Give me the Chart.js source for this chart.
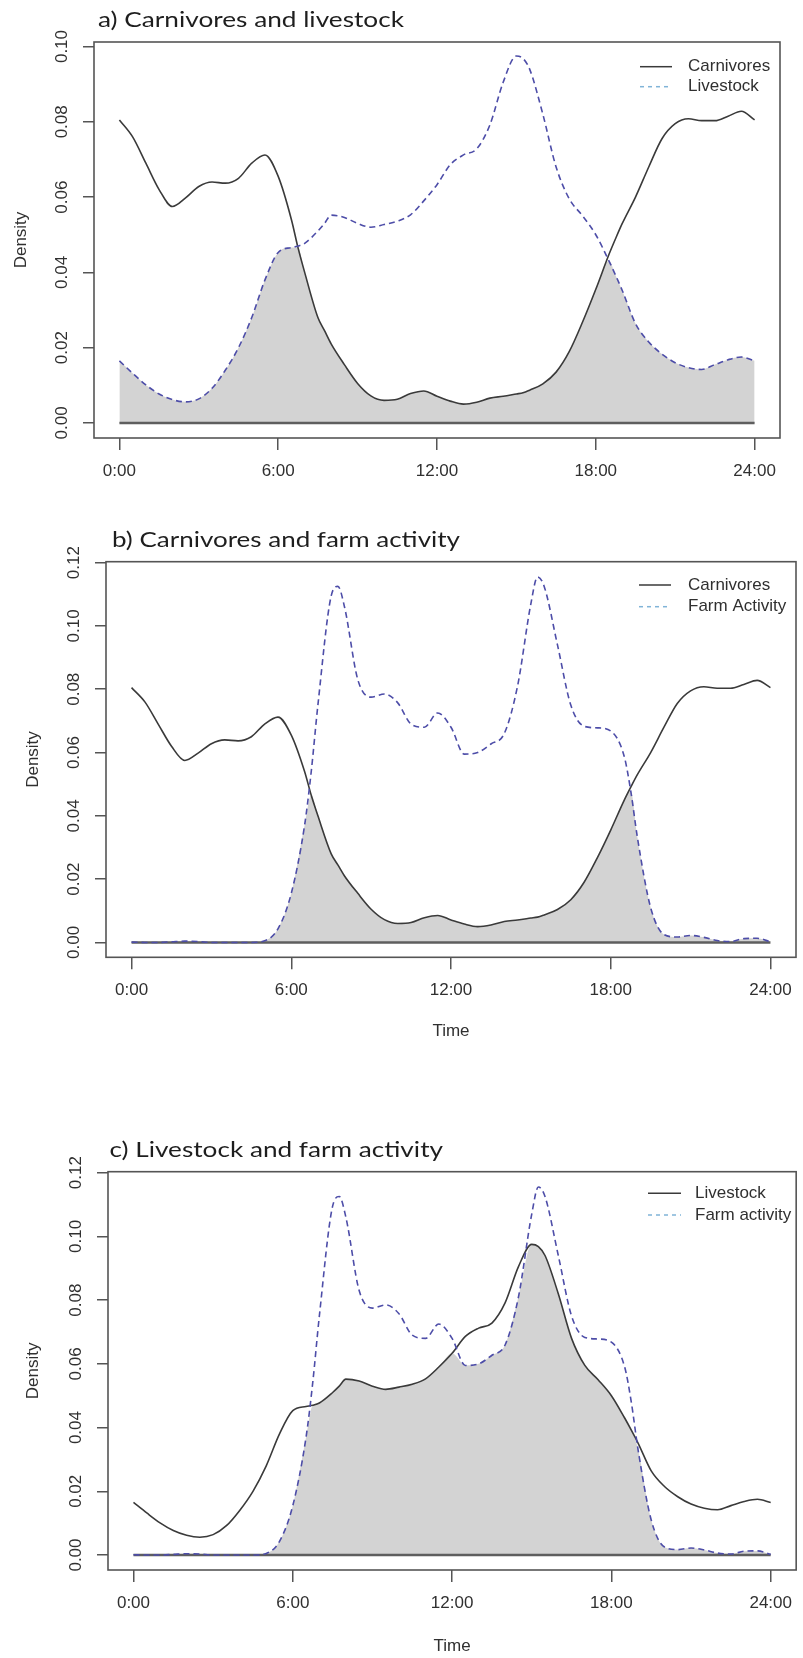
<!DOCTYPE html>
<html>
<head>
<meta charset="utf-8">
<script src="https://cdn.jsdelivr.net/npm/chart.js@4.4.1/dist/chart.umd.min.js"></script>
<style>
  html, body { margin: 0; padding: 0; background: #fff; }
  #wrap { position: relative; width: 803px; height: 1658px; }
  canvas { position: absolute; left: 0; }
</style>
</head>
<body>
<div id="wrap">
  <canvas id="chartA" width="803" height="495" style="top:0px"></canvas>
  <canvas id="chartB" width="803" height="565" style="top:495px"></canvas>
  <canvas id="chartC" width="803" height="598" style="top:1060px"></canvas>
</div>
<script>
// time of day (hours) at which the densities were read
const hours = [0, 0.5, 1, 1.5, 2, 2.5, 3, 3.5, 4, 4.5, 5, 5.5, 6, 6.5, 6.75, 7, 7.5, 7.75,
  8, 8.5, 9, 9.5, 10, 10.5, 11, 11.5, 12, 12.5, 13, 13.5, 14, 14.5, 15, 15.25,
  15.5, 16, 16.5, 17, 17.5, 18, 18.5, 18.75, 19, 19.5, 20, 20.5, 21, 21.5, 22, 22.5, 23, 23.5, 24];

const carnivores = [0.0805, 0.0760, 0.0690, 0.0620, 0.0575, 0.0598, 0.0628, 0.0640, 0.0637, 0.0650,
  0.0690, 0.0712, 0.0655, 0.0540, 0.0465, 0.0400, 0.0280, 0.0245,
  0.0210, 0.0155, 0.0105, 0.0072, 0.0060, 0.0063, 0.0078, 0.0085, 0.0071, 0.0058, 0.0050, 0.0055,
  0.0066, 0.0071, 0.0077, 0.0080,
  0.0087, 0.0104, 0.0135, 0.0190, 0.0268, 0.0355, 0.0448, 0.0490, 0.0530, 0.0600, 0.0680, 0.0755, 0.0795,
  0.0808, 0.0803, 0.0803, 0.0815, 0.0828, 0.0805];

const livestock = [0.0165, 0.0132, 0.0101, 0.0077, 0.0062, 0.0056, 0.0064, 0.0092, 0.0140, 0.0200,
  0.0280, 0.0380, 0.0453, 0.0466, 0.0470, 0.0477, 0.0510, 0.0530,
  0.0552, 0.0546, 0.0530, 0.0520, 0.0527, 0.0536, 0.0553, 0.0590, 0.0633, 0.0686, 0.0712, 0.0728,
  0.0792, 0.0905, 0.0975, 0.0968,
  0.0940, 0.0820, 0.0680, 0.0595, 0.0550, 0.0500, 0.0430, 0.0392, 0.0352, 0.0264, 0.0215, 0.0183, 0.0160,
  0.0147, 0.0142, 0.0155, 0.0168, 0.0175, 0.0165];

const farmActivity = [0.0001, 0.0000, 0.0000, 0.0002, 0.0004, 0.0003, 0.0000, 0.0000, 0.0000, 0.0000,
  0.0005, 0.0043, 0.0155, 0.0370, 0.0540, 0.0750, 0.1095, 0.1125,
  0.1060, 0.0830, 0.0775, 0.0785, 0.0757, 0.0690, 0.0680, 0.0725, 0.0680, 0.0595, 0.0600, 0.0627,
  0.0660, 0.0810, 0.1070, 0.1155,
  0.1125, 0.0940, 0.0750, 0.0683, 0.0678, 0.0668, 0.0590, 0.0480, 0.0333, 0.0110, 0.0025, 0.0017, 0.0022,
  0.0016, 0.0006, 0.0003, 0.0012, 0.0013, 0.0002];

const timeTicks = [0, 6, 12, 18, 24];
const timeLabels = ['0:00', '6:00', '12:00', '18:00', '24:00'];
const densityTicksA = [0, 0.02, 0.04, 0.06, 0.08, 0.10];
const densityTicksBC = [0, 0.02, 0.04, 0.06, 0.08, 0.10, 0.12];

const SOLID = '#3a3a3a';
const DASHED = '#4d4da8';
const KEY_DASH = '#80b4d8';
const SHADE = '#d3d3d3';
const AXIS = '#555555';
const TEXT = '#303030';
const FONT = "'Liberation Sans', Arial, sans-serif";

function pts(ys) {
  return hours.map((h, i) => ({ x: h, y: ys[i] }));
}
// overlap of the two activity curves
function overlap(a, b) {
  return a.map((v, i) => Math.min(v, b[i]));
}

// frame, zero line, key and panel title, R style
const decor = {
  id: 'decor',
  afterDatasetDraw(chart, args, opts) {
    if (args.index !== 0) return;
    const { ctx, scales: { x, y } } = chart;
    const y0 = y.getPixelForValue(0);
    ctx.save();
    ctx.strokeStyle = '#5e5e5e';
    ctx.lineWidth = 2.5;
    ctx.beginPath();
    ctx.moveTo(x.getPixelForValue(hours[0]), y0);
    ctx.lineTo(x.getPixelForValue(hours[hours.length - 1]), y0);
    ctx.stroke();
    ctx.restore();
  },
  afterDraw(chart, args, opts) {
    const { ctx, chartArea: a } = chart;
    ctx.save();
    ctx.strokeStyle = AXIS;
    ctx.lineWidth = 1.6;
    ctx.strokeRect(a.left, a.top, a.right - a.left, a.bottom - a.top);

    // key
    const k = opts.key;
    ctx.font = '17px ' + FONT;
    ctx.textBaseline = 'middle';
    ctx.textAlign = 'left';
    k.labels.forEach((lab, i) => {
      const yy = k.rows[i];
      ctx.beginPath();
      ctx.lineWidth = 1.5;
      if (i === 0) { ctx.strokeStyle = SOLID; ctx.setLineDash([]); }
      else { ctx.strokeStyle = KEY_DASH; ctx.setLineDash([4, 4]); }
      ctx.moveTo(k.x1, yy);
      ctx.lineTo(k.x2, yy);
      ctx.stroke();
      ctx.setLineDash([]);
      ctx.fillStyle = TEXT;
      ctx.fillText(lab, k.tx, yy);
    });

    // panel title
    const t = opts.title;
    ctx.font = '21px Lato, "Open Sans", sans-serif';
    ctx.textBaseline = 'alphabetic';
    ctx.fillStyle = '#1e1e1e';
    const w = ctx.measureText(t.text).width;
    ctx.translate(t.x, t.y);
    ctx.scale(t.width / w, 1);
    ctx.fillText(t.text, 0, 0);
    ctx.restore();
  }
};

function makeChart(p) {
  const ctx = document.getElementById(p.id).getContext('2d');
  return new Chart(ctx, {
    type: 'line',
    data: {
      datasets: [{
        label: 'overlap',
        data: pts(overlap(p.solid, p.dashed)),
        borderWidth: 0,
        backgroundColor: SHADE,
        fill: 'origin',
        pointRadius: 0,
        cubicInterpolationMode: 'monotone',
        order: 3
      }, {
        label: p.keys[0],
        data: pts(p.solid),
        borderColor: SOLID,
        borderWidth: 1.6,
        fill: false,
        pointRadius: 0,
        cubicInterpolationMode: 'monotone',
        order: 2
      }, {
        label: p.keys[1],
        data: pts(p.dashed),
        borderColor: DASHED,
        borderWidth: 1.6,
        borderDash: [6, 4],
        fill: false,
        pointRadius: 0,
        cubicInterpolationMode: 'monotone',
        order: 1
      }]
    },
    options: {
      responsive: false,
      animation: false,
      layout: { padding: p.pad },
      plugins: {
        legend: { display: false },
        tooltip: { enabled: false },
        decor: { key: p.key, title: p.title }
      },
      scales: {
        x: {
          type: 'linear',
          min: -0.96,
          max: 24.96,
          afterBuildTicks: (s) => { s.ticks = timeTicks.map(v => ({ value: v })); },
          afterFit: (s) => { s.height = p.xHeight; },
          border: { display: false },
          grid: { drawOnChartArea: false, drawTicks: true, tickLength: 12, color: AXIS, lineWidth: 1.5 },
          ticks: {
            autoSkip: false, maxRotation: 0, padding: 11, color: TEXT,
            font: { family: FONT, size: 17 },
            callback: (v, i) => timeLabels[i]
          },
          title: {
            display: p.timeTitle, text: 'Time', color: TEXT,
            font: { family: FONT, size: 17 },
            padding: { top: 0, bottom: p.timePad }
          }
        },
        y: {
          min: p.yMin,
          max: p.yMax,
          afterBuildTicks: (s) => { s.ticks = p.yTicks.map(v => ({ value: v })); },
          afterFit: (s) => { s.width = p.yWidth; },
          border: { display: false },
          grid: { drawOnChartArea: false, drawTicks: true, tickLength: 11, color: AXIS, lineWidth: 1.5 },
          ticks: {
            autoSkip: false, minRotation: 90, maxRotation: 90, crossAlign: 'center',
            padding: 4, color: TEXT,
            font: { family: FONT, size: 17 },
            callback: (v) => v.toFixed(2)
          },
          title: {
            display: true, text: 'Density', color: TEXT,
            font: { family: FONT, size: 17 },
            padding: { top: p.densityPad, bottom: 0 }
          }
        }
      }
    },
    plugins: [decor]
  });
}

makeChart({
  id: 'chartA', solid: carnivores, dashed: livestock, keys: ['Carnivores', 'Livestock'],
  yTicks: densityTicksA, yMin: -0.004, yMax: 0.1012,
  pad: { left: 0, top: 42, right: 23, bottom: 7 }, yWidth: 94, xHeight: 50,
  densityPad: 11, timeTitle: false, timePad: 0,
  key: { labels: ['Carnivores', 'Livestock'], x1: 640, x2: 672, tx: 688, rows: [66.7, 86.7] },
  title: { text: 'a) Carnivores and livestock', x: 98, y: 26.7, width: 306 }
});

makeChart({
  id: 'chartB', solid: carnivores, dashed: farmActivity, keys: ['Carnivores', 'Farm Activity'],
  yTicks: densityTicksBC, yMin: -0.0047, yMax: 0.1203,
  pad: { left: 0, top: 66.7, right: 7, bottom: 12.7 }, yWidth: 106, xHeight: 90,
  densityPad: 23, timeTitle: true, timePad: 6,
  key: { labels: ['Carnivores', 'Farm Activity'], x1: 639, x2: 671, tx: 688, rows: [90, 111.7] },
  title: { text: 'b) Carnivores and farm activity', x: 112, y: 51.7, width: 348 }
});

makeChart({
  id: 'chartC', solid: livestock, dashed: farmActivity, keys: ['Livestock', 'Farm activity'],
  yTicks: densityTicksBC, yMin: -0.0047, yMax: 0.1203,
  pad: { left: 0, top: 111.7, right: 1, bottom: 0 }, yWidth: 108, xHeight: 88,
  densityPad: 23, timeTitle: true, timePad: 1,
  key: { labels: ['Livestock', 'Farm activity'], x1: 648, x2: 681, tx: 695, rows: [133.3, 155] },
  title: { text: 'c) Livestock and farm activity', x: 109.5, y: 96.7, width: 333.5 }
});
</script>
</body>
</html>
